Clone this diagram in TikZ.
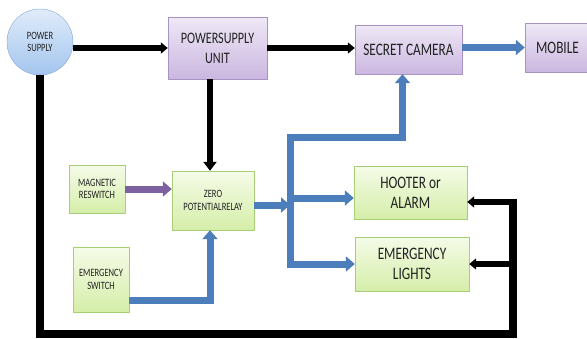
\documentclass[tikz,border=0pt]{standalone}
\usepackage{fontspec}
\setmainfont{Carlito}[FakeStretch=0.76]
\usetikzlibrary{arrows.meta,shadows}

\definecolor{lilactop}{HTML}{EEE8F6}
\definecolor{lilacbot}{HTML}{CBB7E0}
\definecolor{lilacedge}{HTML}{A893C4}
\definecolor{limetop}{HTML}{F5FBE8}
\definecolor{limebot}{HTML}{D5EEA9}
\definecolor{limeedge}{HTML}{A9CE78}
\definecolor{circtop}{HTML}{E0ECFA}
\definecolor{circbot}{HTML}{A3C5EE}
\definecolor{circedge}{HTML}{7FA5D6}
\definecolor{bluefill}{HTML}{4B7EBB}
\definecolor{violet}{HTML}{7D60A0}
\definecolor{txt}{HTML}{222222}

\tikzset{
	blocktext/.style={align=center, text=txt, inner sep=0pt, font=\fontsize{17.5}{20}\selectfont},
	smalltext/.style={font=\fontsize{11.2}{12.5}\selectfont},
	lilac/.style={rectangle, draw=lilacedge, top color=lilactop, bottom color=lilacbot, drop shadow={shadow xshift=0.8pt, shadow yshift=-1.2pt, opacity=0.25}, blocktext},
	lime/.style={rectangle, draw=limeedge, top color=limetop, bottom color=limebot, drop shadow={shadow xshift=0.8pt, shadow yshift=-1.2pt, opacity=0.25}, blocktext},
	blk/.style={draw=black, line width=6pt, -{Triangle[width=13pt,length=9pt]}},
	blkthin/.style={draw=black, line width=5.5pt, -{Triangle[width=11pt,length=7pt]}},
	blu/.style={draw=bluefill, line width=7pt, line join=miter, -{Triangle[width=15pt,length=9pt]}}
}

\begin{document}
\begin{tikzpicture}[x=1pt, y=-1pt]
	\useasboundingbox (0,0) rectangle (587,338);

	\node[circle, draw=circedge, top color=circtop, bottom color=circbot, minimum size=66pt, blocktext, smalltext] (psup) at (40,42) {POWER\\SUPPLY};
	\node[lilac, minimum width=99pt, minimum height=62pt, font=\fontsize{16}{20}\selectfont] (psu) at (217.5,48) {POWERSUPPLY\\UNIT};
	\node[lilac, minimum width=107pt, minimum height=49pt] (cam) at (408.5,49.5) {SECRET CAMERA};
	\node[lilac, minimum width=65pt, minimum height=49pt] (mobile) at (557.5,47.5) {MOBILE};

	\node[lime, smalltext, minimum width=56pt, minimum height=48pt] (mag) at (97,189) {MAGNETIC\\RESWITCH};
	\node[lime, smalltext, minimum width=82pt, minimum height=59pt] (relay) at (213,200.5) {ZERO\\POTENTIALRELAY};
	\node[lime, smalltext, minimum width=56pt, minimum height=65pt] (esw) at (101,279.5) {EMERGENCY\\SWITCH};
	\node[lime, minimum width=113pt, minimum height=53pt] (hoot) at (410.5,192.5) {HOOTER or\\ALARM};
	\node[lime, minimum width=114pt, minimum height=54pt] (lights) at (412,264) {EMERGENCY\\LIGHTS};

	\coordinate (bustop) at (290,137);
	\coordinate (loopcorner) at (513,334);
	\coordinate (hootin) at ([yshift=-9.5pt]hoot.east);
	\coordinate (hootblue) at ([yshift=-5.5pt]hoot.west);

	% supply chain
	\draw[blkthin] (psup.east |- psu.west) -- (psu.west);
	\draw[blkthin] (psu.east) -- (psu.east -| cam.west);
	\draw[blu] (cam.east |- mobile.west) -- (mobile.west);
	\draw[blk] ([xshift=-3pt]relay.north |- psu.south) -- ([xshift=-3pt]relay.north);

	% inputs of the relay
	\draw[draw=violet, line width=7pt, -{Triangle[width=15pt,length=9pt]}] (mag.east) -- (mag.east -| relay.west);
	\draw[blu] ([yshift=-20.5pt]esw.east) -| ([xshift=-3pt]relay.south);

	% relay outputs
	\draw[blu] ([yshift=-4.5pt]relay.east) -- ([yshift=-4.5pt]relay.east -| bustop);
	\draw[blu, shorten <=-3.5pt] (lights.west -| bustop) -- (bustop) -| ([xshift=-6pt]cam.south);
	\draw[blu] (hootblue -| bustop) -- (hootblue);
	\draw[blu] (lights.west -| bustop) -- (lights.west);

	% loop from the supply
	\draw[draw=black, line width=8pt, line join=miter, shorten >=-3pt] (psup.south) |- (loopcorner) -- (loopcorner |- hootin);
	\draw[blkthin] (hootin -| loopcorner) -- (hootin);
	\draw[blkthin] (lights.east -| loopcorner) -- (lights.east);
\end{tikzpicture}
\end{document}
